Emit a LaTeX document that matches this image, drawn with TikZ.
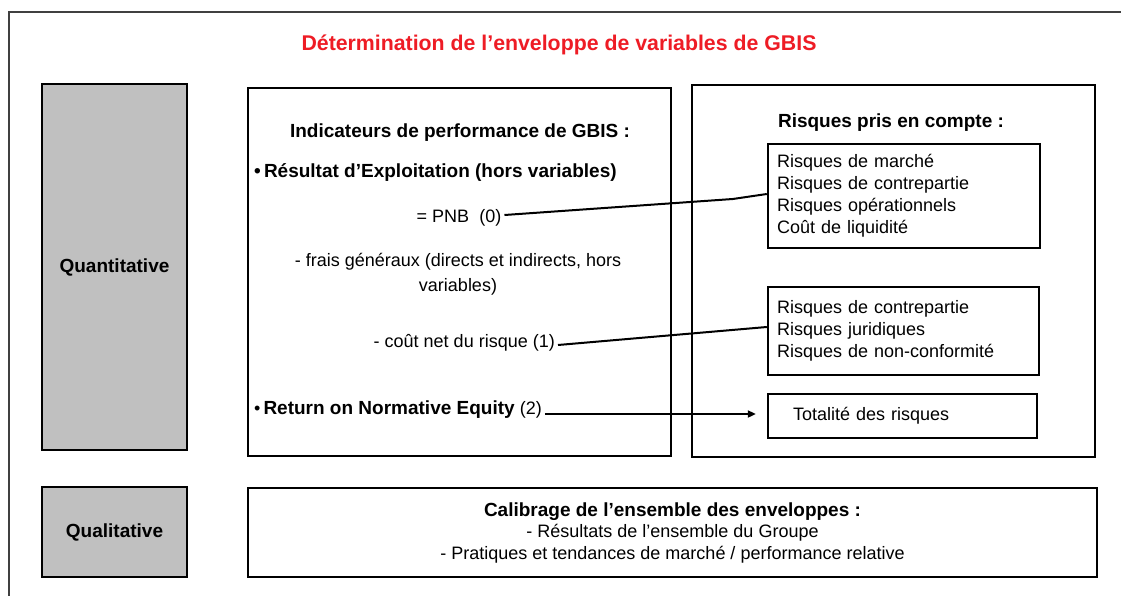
\documentclass[tikz,border=0pt]{standalone}
\usepackage{fontspec}
\setmainfont{Liberation Sans}
\usetikzlibrary{arrows.meta}
\definecolor{titlered}{HTML}{EE1C25}
\definecolor{boxgray}{HTML}{C0C0C0}
\definecolor{framegray}{HTML}{404040}
\tikzset{
  reg/.style={font=\fontsize{18}{22}\selectfont, inner sep=3pt},
  bld/.style={font=\fontsize{19}{23}\selectfont\bfseries, inner sep=3pt},
  panel/.style={draw=black, line width=2.7pt, fill=white, inner sep=0pt},
  graypanel/.style={draw=black, line width=2.7pt, fill=boxgray, inner sep=0pt, font=\fontsize{19}{23}\selectfont\bfseries},
  riskbox/.style={draw=black, line width=2.4pt, fill=white, inner ysep=0pt, align=left, font=\fontsize{18}{22}\selectfont},
  conn/.style={draw=black, line width=2pt},
}
\begin{document}
\begin{tikzpicture}[x=1pt, y=-1pt]
\useasboundingbox (0,0) rectangle (1121,596);
% outer frame
\draw[framegray, line width=2.4pt] (1125,12) -- (9,12) -- (9,600);
% title
\node[font=\fontsize{21.3}{24}\selectfont\bfseries, text=titlered] (title) at (559,45) {Détermination de l'enveloppe de variables de GBIS};
% left gray boxes
\node[graypanel, minimum width=145pt, minimum height=366pt] (quant) at (114.5,267) {Quantitative};
\node[graypanel, minimum width=145pt, minimum height=90pt] (qual) at (114.5,532) {Qualitative};
% middle panel
\node[panel, minimum width=423pt, minimum height=368pt] (mid) at (459.5,272) {};
% right panel
\node[panel, minimum width=403pt, minimum height=372pt] (right) at (893.5,271) {};
% bottom panel
\node[panel, minimum width=849pt, minimum height=89pt, align=center, font=\fontsize{18}{21.5}\selectfont] (calib) at (672.5,532.5)
  {\textbf{\fontsize{19}{21.5}\selectfont Calibrage de l'ensemble des enveloppes :}\\- Résultats de l'ensemble du Groupe\\- Pratiques et tendances de marché / performance relative};
% middle texts
\node[bld] (ind) at (460,133) {Indicateurs de performance de GBIS :};
\node[bld, anchor=west] (res) at (251,173) {•\,Résultat d'Exploitation (hors variables)};
\node[reg] (pnb) at (459,218) {= PNB\ \ (0)};
\node[reg, align=center, font=\fontsize{18}{25}\selectfont] (frais) at (458,274.5) {- frais généraux (directs et indirects, hors\\variables)};
\node[reg, anchor=east] (cout) at (558,343) {- coût net du risque (1)};
\node[reg, anchor=west] (ret) at (251,410) {•\,\textbf{\fontsize{19}{23}\selectfont Return on Normative Equity} (2)};
% right texts
\node[bld] (rpc) at (891,123) {Risques pris en compte :};
\node[riskbox, text width=254pt, inner xsep=9pt, minimum height=104pt] (box1) at (904,196)
  {Risques de marché\\Risques de contrepartie\\Risques opérationnels\\Coût de liquidité};
\node[riskbox, text width=253pt, inner xsep=9pt, minimum height=88pt] (box2) at (903.5,331)
  {Risques de contrepartie\\Risques juridiques\\Risques de non-conformité};
\node[riskbox, text width=219pt, inner xsep=25pt, minimum height=44pt] (tot) at (902.5,416)
  {Totalité des risques};
% connectors
\draw[conn] ([yshift=3pt]pnb.east) -- ([xshift=-34pt,yshift=-3pt]box1.west) -- ([yshift=2pt]box1.west);
\draw[conn] ([yshift=-2pt]cout.east) -- ([yshift=4pt]box2.west);
\draw[conn, -{Triangle[length=8pt, width=7pt]}] ([yshift=-4pt]ret.east) -- ([xshift=-11pt,yshift=2pt]tot.west);
\end{tikzpicture}
\end{document}
